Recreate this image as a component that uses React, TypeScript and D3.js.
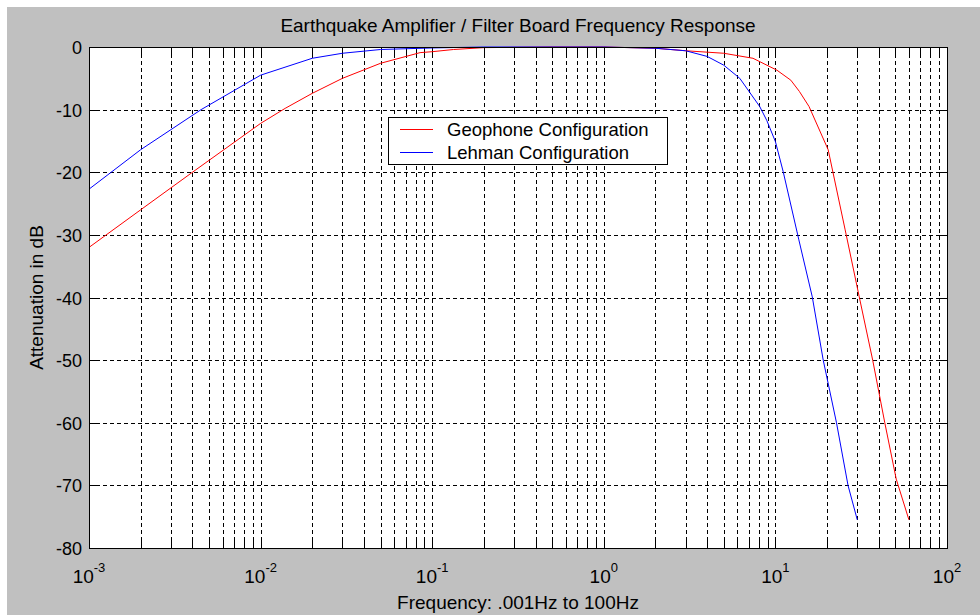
import React from 'react';
import * as d3 from 'd3';

// Geophone configuration (red)
const geoFreq = [0.001, 0.002, 0.00415, 0.01, 0.0139, 0.02, 0.03, 0.05, 0.085, 0.1, 0.133, 0.2, 0.5, 1, 2, 3, 5, 7.4, 10.2, 12.3, 13.8, 15.7, 20.3, 25.5, 30.8, 36.9, 43.4, 50.6, 60];
const geoDb = [-32, -26, -19.7, -12.2, -9.8, -7.4, -5.0, -2.6, -0.9, -0.75, -0.4, -0.1, 0, 0, -0.2, -0.6, -1.0, -1.8, -3.7, -5.3, -7.1, -9.5, -16.4, -29.2, -39.9, -50, -60, -69, -75.5];

// Lehman configuration (blue)
const lehFreq = [0.001, 0.002, 0.0045, 0.01, 0.02, 0.03, 0.05, 0.1, 0.2, 1, 2, 3, 4, 5, 6.2, 8.1, 8.9, 10, 11.1, 13.7, 16.4, 19, 22.7, 26.5, 30];
const lehDb = [-22.7, -16.4, -10, -4.5, -1.8, -1.0, -0.4, -0.15, 0, 0, -0.2, -0.6, -1.5, -2.9, -5, -9.5, -11.7, -15.1, -19.9, -30.8, -39.9, -50, -60, -70, -75.5];

const yTicks = [-80, -70, -60, -50, -40, -30, -20, -10, 0];
const xExponents = [-3, -2, -1, 0, 1, 2];

const seriesNames = ['Geophone Configuration', 'Lehman Configuration'];
const seriesColors = ['#ff0000', '#0000ff'];

const W = 980;
const H = 615;
const plot = { left: 89, right: 947, top: 47, bottom: 548 };
const font = '"Liberation Sans", Arial, Helvetica, sans-serif';

const App = () => {
  const x = d3.scaleLog().domain([1e-3, 1e2]).range([plot.left, plot.right]);
  const y = d3.scaleLinear().domain([-80, 0]).range([plot.bottom, plot.top]);

  const line = d3.line<[number, number]>()
    .x(d => x(d[0]))
    .y(d => y(d[1]));

  const geo = geoFreq.map((f, i) => [f, geoDb[i]] as [number, number]);
  const leh = lehFreq.map((f, i) => [f, lehDb[i]] as [number, number]);

  const xTicks = x.ticks();
  const tick = 8;
  const dash = '4,3';

  return (
    <svg width={W} height={H} style={{ position: 'absolute', left: 0, top: 0, fontFamily: font }}>
      <rect x={0} y={0} width={W} height={H} fill="#ffffff" />
      <rect x={7} y={7} width={W - 7} height={H - 7} fill="#c0c0c0" />
      <rect x={plot.left} y={plot.top} width={plot.right - plot.left} height={plot.bottom - plot.top} fill="#ffffff" />

      {/* grid */}
      <g stroke="#000" strokeWidth={1} strokeDasharray={dash} shapeRendering="crispEdges">
        {xTicks.map((t, i) => (
          <line key={'gx' + i} x1={Math.round(x(t)) + 0.5} x2={Math.round(x(t)) + 0.5} y1={plot.top} y2={plot.bottom} />
        ))}
        {yTicks.map((t, i) => (
          <line key={'gy' + i} x1={plot.left} x2={plot.right} y1={Math.round(y(t)) + 0.5} y2={Math.round(y(t)) + 0.5} />
        ))}
      </g>

      {/* ticks */}
      <g stroke="#000" strokeWidth={1} shapeRendering="crispEdges">
        {xTicks.map((t, i) => {
          const px = Math.round(x(t)) + 0.5;
          return (
            <g key={'tx' + i}>
              <line x1={px} x2={px} y1={plot.bottom} y2={plot.bottom - tick} />
              <line x1={px} x2={px} y1={plot.top} y2={plot.top + tick} />
            </g>
          );
        })}
        {yTicks.map((t, i) => {
          const py = Math.round(y(t)) + 0.5;
          return (
            <g key={'ty' + i}>
              <line x1={plot.left} x2={plot.left + tick} y1={py} y2={py} />
              <line x1={plot.right} x2={plot.right - tick} y1={py} y2={py} />
            </g>
          );
        })}
      </g>

      {/* data */}
      <path d={line(geo) || ''} fill="none" stroke={seriesColors[0]} strokeWidth={1} />
      <path d={line(leh) || ''} fill="none" stroke={seriesColors[1]} strokeWidth={1} />

      {/* frame */}
      <rect x={plot.left + 0.5} y={plot.top + 0.5} width={plot.right - plot.left} height={plot.bottom - plot.top}
        fill="none" stroke="#000" strokeWidth={1} shapeRendering="crispEdges" />

      {/* y tick labels */}
      {yTicks.map((t, i) => (
        <text key={'ly' + i} x={plot.left - 7} y={y(t) + 7} textAnchor="end" fontSize={18} fill="#000">{t}</text>
      ))}

      {/* x tick labels */}
      {xExponents.map((e, i) => (
        <text key={'lx' + i} x={x(Math.pow(10, e))} y={583} textAnchor="middle" fill="#000">
          <tspan fontSize={19}>10</tspan>
          <tspan fontSize={13} dy={-11}>{e}</tspan>
        </text>
      ))}

      {/* title and axis labels */}
      <text x={(plot.left + plot.right) / 2} y={32} textAnchor="middle" fontSize={19} fill="#000">
        Earthquake Amplifier / Filter Board Frequency Response
      </text>
      <text x={(plot.left + plot.right) / 2} y={609} textAnchor="middle" fontSize={19} fill="#000">
        Frequency: .001Hz to 100Hz
      </text>
      <text transform={`translate(43, ${(plot.top + plot.bottom) / 2}) rotate(-90)`} textAnchor="middle" fontSize={19} fill="#000">
        Attenuation in dB
      </text>

      {/* legend */}
      <g>
        <rect x={388.5} y={117.5} width={279} height={47} fill="#ffffff" stroke="#000" strokeWidth={1} shapeRendering="crispEdges" />
        {seriesNames.map((n, i) => (
          <g key={n}>
            <line x1={400} x2={433} y1={129.5 + i * 23} y2={129.5 + i * 23} stroke={seriesColors[i]} strokeWidth={1} />
            <text x={447} y={136 + i * 23} fontSize={18.5} fill="#000">{n}</text>
          </g>
        ))}
      </g>
    </svg>
  );
};

export default App;
